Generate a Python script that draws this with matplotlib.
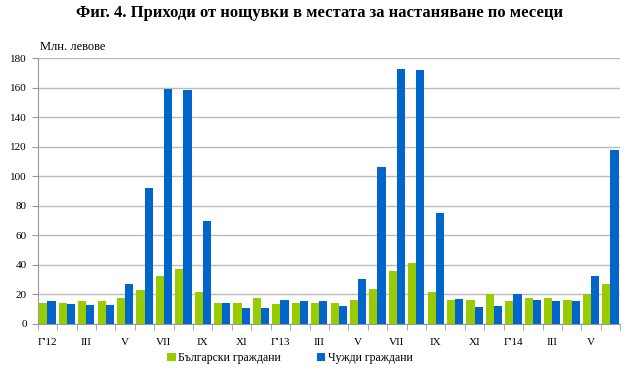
import numpy as np
import matplotlib.pyplot as plt

plt.rcParams['font.family'] = ['Liberation Serif', 'DejaVu Serif']

# Monthly values, Jan 2012 - Jun 2014 (mln. BGN)
bulgarians = [14.0, 14.0, 15.8, 15.8, 17.6, 23.0, 32.7, 36.9, 21.6, 14.4, 14.0, 17.6,
              13.1, 14.4, 14.4, 14.4, 16.3, 23.9, 35.9, 41.3, 21.7, 16.3, 16.3, 20.3,
              15.3, 17.2, 17.6, 16.3, 19.9, 26.9]
foreigners = [15.3, 13.1, 12.6, 12.6, 26.8, 92.3, 159.2, 158.3, 69.4, 14.4, 10.4, 10.4,
              16.2, 15.8, 15.3, 12.0, 30.2, 106.0, 172.7, 171.6, 75.2, 16.9, 11.5, 12.0,
              19.9, 16.3, 15.3, 15.3, 32.5, 117.8]
tick_labels = ["Г'12", "III", "V", "VII", "IX", "XI", "Г'13", "III", "V", "VII",
               "IX", "XI", "Г'14", "III", "V"]

green = '#99CC00'
blue = '#0066CC'

fig = plt.figure(figsize=(6.4, 3.77), dpi=100)
ax = fig.add_axes([0.059, 0.141, 0.91, 0.705])

x = np.arange(len(bulgarians))
w = 0.42
ax.bar(x - w/2, bulgarians, width=w, color=green, label='Български граждани', zorder=3)
ax.bar(x + w/2, foreigners, width=w, color=blue, label='Чужди граждани', zorder=3)

ax.set_xlim(-0.5, len(x) - 0.5)
ax.set_ylim(0, 180)
ax.set_yticks(np.arange(0, 181, 20))
ax.yaxis.grid(True, color='#BBBBBB', linewidth=1, zorder=0)

ax.set_xticks(np.arange(0, len(x), 2))
ax.set_xticklabels(tick_labels)
ax.set_xticks(np.arange(-0.5, len(x), 1), minor=True)
ax.tick_params(axis='x', which='major', length=0, pad=10, labelsize=8)
ax.tick_params(axis='x', which='minor', length=4, color='#999999')
ax.tick_params(axis='y', length=4, color='#999999', labelsize=8, pad=4)

for s in ['top', 'right']:
    ax.spines[s].set_visible(False)
for s in ['left', 'bottom']:
    ax.spines[s].set_color('#999999')

fig.text(0.5, 0.965, 'Фиг. 4. Приходи от нощувки в местата за настаняване по месеци',
         ha='center', va='center', fontsize=12, fontweight='bold')
fig.text(0.062, 0.875, 'Млн. левове', ha='left', va='center', fontsize=9)

fig.legend(loc='center', bbox_to_anchor=(0.453, 0.05), ncol=2, frameon=False,
           fontsize=8.5, handlelength=0.7, handleheight=0.7, handletextpad=0.2,
           columnspacing=3.1)

fig.savefig('out.png', dpi=100)
